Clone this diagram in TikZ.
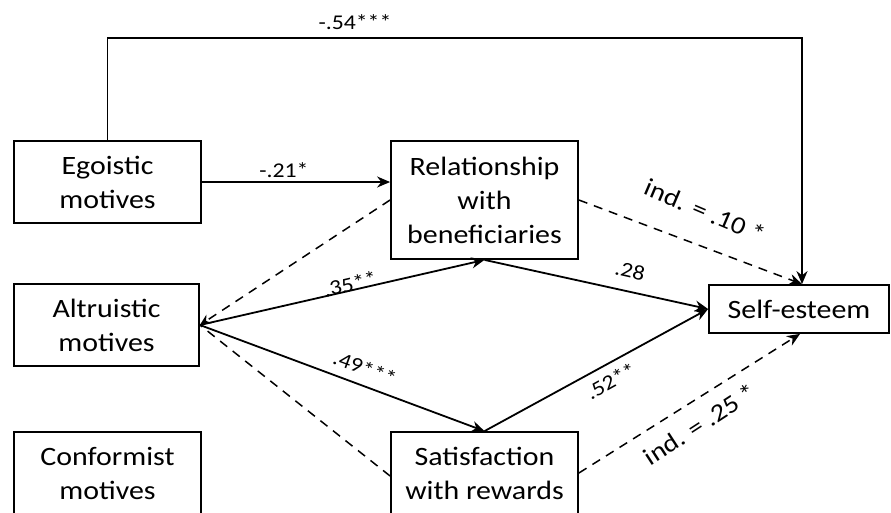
\documentclass[tikz,border=0pt]{standalone}
\usepackage{fontspec}
\setmainfont{Carlito}[FakeStretch=1.13]
\usetikzlibrary{arrows.meta,calc}
\begin{document}
\begin{tikzpicture}[x=1pt,y=-1pt,
  box/.style={draw,line width=1.8pt,align=center,inner sep=0pt,font=\fontsize{26.5}{34}\selectfont},
  arr/.style={line width=1.8pt,-{Stealth[length=13pt,width=11pt]}},
  dsh/.style={line width=1.5pt,dash pattern=on 9pt off 7pt},
  lab/.style={inner sep=0pt,font=\fontsize{21}{24}\selectfont},
  ind/.style={inner sep=0pt,font=\fontsize{25}{28}\selectfont}]
\clip (0,0) rectangle (891,512);
\path[use as bounding box] (0,0) rectangle (891,512);
\node[box,minimum width=187pt,minimum height=82pt] (ego) at (107.5,182) {Egoistic\\motives};
\node[box,minimum width=187pt,minimum height=118pt] (rel) at (484.5,200) {Relationship\\with\\beneficiaries};
\node[box,minimum width=185pt,minimum height=82pt] (alt) at (106.5,325) {Altruistic\\motives};
\node[box,minimum width=187pt,minimum height=82pt] (conf) at (107.5,473) {Conformist\\motives};
\node[box,minimum width=187pt,minimum height=82pt] (sat) at (484.5,473) {Satisfaction\\with rewards};
\node[box,minimum width=180pt,minimum height=48pt] (se) at (799,309) {Self-esteem};
\coordinate (top) at (0,38);
\draw[arr] (ego.north) -- (ego.north |- top) -| ([xshift=3pt]se.north);
\draw[arr] (ego.east) -- (ego.east -| rel.west);
\draw[arr] (alt.east) -- (rel.south);
\draw[arr] (alt.east) -- (sat.north);
\draw[arr] (rel.south) -- (se.west);
\draw[arr] (sat.north) -- (se.west);
\draw[dsh,-{Stealth[length=11pt,width=10pt]}] (rel.west) -- (alt.east);
\draw[dsh] ([yshift=-3pt]sat.west) -- (alt.east);
\draw[dsh,-{Stealth[length=13pt,width=11pt]}] (rel.east) -- ([xshift=3pt]se.north);
\draw[dsh,-{Stealth[length=13pt,width=11pt]}] (sat.east) -- ([xshift=1pt]se.south);
\node[lab] (l54) at (355,22) {-.54***};
\node[lab] (l21) at (284,170) {-.21*};
\node[lab,rotate=13] (l35) at (350,284) {.35**};
\node[lab,rotate=-20] (l49) at (365,368) {.49***};
\node[lab,rotate=-13] (l28) at (630,271) {.28};
\node[lab,rotate=29] (l52) at (611,381) {.52**};
\node[ind,rotate=-23] (i10) at (705,211) {ind. = .10 *};
\node[ind,rotate=33] (i25) at (700,424) {ind. = .25 *};
\end{tikzpicture}
\end{document}
